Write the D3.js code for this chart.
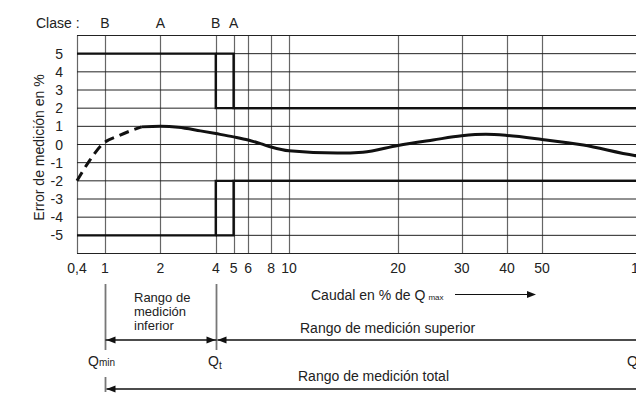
<!DOCTYPE html>
<html>
<head>
<meta charset="utf-8">
<script src="https://cdn.jsdelivr.net/npm/d3@7"></script>
<style>
  body { margin: 0; background: #fff; }
  svg { display: block; font-family: "Liberation Sans", Arial, sans-serif; }
  text { fill: #222; font-size: 14px; }
</style>
</head>
<body>
<div id="chart"></div>
<script>

/////////////////////
// Data
/////////////////////

var xTicks = [0.4, 1, 2, 4, 5, 6, 8, 10, 20, 30, 40, 50, 100];
var xTickLabels = ["0,4", "1", "2", "4", "5", "6", "8", "10", "20", "30", "40", "50", "100"];
var yTicks = [-5, -4, -3, -2, -1, 0, 1, 2, 3, 4, 5];
var yGrid = [-6, -5, -4, -3, -2, -1, 0, 1, 2, 3, 4, 5, 6];

var claseX = [1, 2, 4, 5];
var claseLabels = ["B", "A", "B", "A"];

// error limits (class B switches at 4, class A at 5)
var limitUpperB = [[0.4, 5], [4, 5], [4, 2], [100, 2]];
var limitUpperA = [[4, 5], [5, 5], [5, 2], [100, 2]];
var limitLowerB = [[0.4, -5], [4, -5], [4, -2], [100, -2]];
var limitLowerA = [[4, -5], [5, -5], [5, -2], [100, -2]];

// error curve of the meter
var curveDashed = [[0.4, -2], [0.6, -0.9], [0.9, -0.02], [1.2, 0.5], [1.58, 0.97]];
var curveSolid = [[1.58, 0.97], [2, 1.0], [2.5, 0.95], [3.3, 0.75], [4, 0.6], [5, 0.42],
                  [6, 0.25], [7, 0.05], [8, -0.14], [10, -0.35], [13.6, -0.47], [16, -0.42],
                  [20, -0.05], [25, 0.25], [30, 0.48], [35, 0.56], [40, 0.5], [50, 0.28],
                  [65, -0.03], [90, -0.6], [100, -0.72]];

var qMin = 1, qT = 4;

/////////////////////
// Scales
/////////////////////

var width = 636, height = 394;

// piecewise log scale: each band of the axis has its own decade length
var x = d3.scaleLog()
    .domain([0.4, 1, 10, 100])
    .range([77, 105, 289, 651]);

var y = d3.scaleLinear()
    .domain([-6, 6])
    .range([253.5, 35.5]);

var svg = d3.select("#chart").append("svg")
    .attr("width", width)
    .attr("height", height);

/////////////////////
// Grid
/////////////////////

svg.append("g").selectAll("line")
    .data(xTicks)
  .enter().append("line")
    .attr("x1", function(d) { return Math.round(x(d)) + 0.5; })
    .attr("x2", function(d) { return Math.round(x(d)) + 0.5; })
    .attr("y1", y(6))
    .attr("y2", y(-6))
    .style("stroke", "#666")
    .style("stroke-width", 1.2);

svg.append("g").selectAll("line")
    .data(yGrid)
  .enter().append("line")
    .attr("x1", x(0.4))
    .attr("x2", width)
    .attr("y1", function(d) { return y(d); })
    .attr("y2", function(d) { return y(d); })
    .style("stroke", "#222")
    .style("stroke-width", 1);

/////////////////////
// Axis labels
/////////////////////

svg.append("g").selectAll("text")
    .data(xTicks)
  .enter().append("text")
    // last label sits half outside the picture, as in the print
    .attr("x", function(d) { return d === 100 ? x(d) - 20 : x(d); })
    .attr("y", 273)
    .attr("text-anchor", function(d) { return d === 100 ? "start" : "middle"; })
    .text(function(d, i) { return xTickLabels[i]; });

svg.append("g").selectAll("text")
    .data(yTicks)
  .enter().append("text")
    .attr("x", 63)
    .attr("y", function(d) { return y(d) + 5; })
    .attr("text-anchor", "end")
    .text(function(d) { return d; });

svg.append("text")
    .attr("transform", "translate(44," + (y(0) + 3) + ") rotate(-90)")
    .attr("text-anchor", "middle")
    .text("Error de medición en %");

svg.append("text")
    .attr("x", 36)
    .attr("y", 28)
    .text("Clase :");

svg.append("g").selectAll("text")
    .data(claseX)
  .enter().append("text")
    .attr("x", function(d) { return x(d); })
    .attr("y", 28)
    .attr("text-anchor", "middle")
    .text(function(d, i) { return claseLabels[i]; });

/////////////////////
// Limits and curve
/////////////////////

var line = d3.line()
    .x(function(d) { return x(d[0]); })
    .y(function(d) { return y(d[1]); });

[limitUpperB, limitUpperA, limitLowerB, limitLowerA].forEach(function(l) {
    svg.append("path")
        .attr("d", line(l))
        .style("fill", "none")
        .style("stroke", "#111")
        .style("stroke-width", 2.4);
});

var smooth = d3.line()
    .x(function(d) { return x(d[0]); })
    .y(function(d) { return y(d[1]); })
    .curve(d3.curveMonotoneX);

svg.append("path")
    .attr("d", smooth(curveDashed))
    .style("fill", "none")
    .style("stroke", "#111")
    .style("stroke-width", 3)
    .style("stroke-dasharray", "10,6");

svg.append("path")
    .attr("d", smooth(curveSolid))
    .style("fill", "none")
    .style("stroke", "#111")
    .style("stroke-width", 3);

/////////////////////
// Range annotations
/////////////////////

function arrowHead(px, py, dir) {
    // dir = 1 points right, -1 points left
    svg.append("path")
        .attr("d", "M" + px + "," + py + "L" + (px - dir * 9) + "," + (py - 3.5) +
                   "L" + (px - dir * 9) + "," + (py + 3.5) + "Z")
        .style("fill", "#111");
}

function hLine(x1, x2, py, w) {
    svg.append("line")
        .attr("x1", x1).attr("x2", x2)
        .attr("y1", py).attr("y2", py)
        .style("stroke", "#111")
        .style("stroke-width", w || 1.2);
}

function vLine(px, y1, y2) {
    svg.append("line")
        .attr("x1", px).attr("x2", px)
        .attr("y1", y1).attr("y2", y2)
        .style("stroke", "#777")
        .style("stroke-width", 1.8);
}

var xMin = Math.round(x(qMin)) + 0.5, xT = Math.round(x(qT)) + 0.5;

vLine(xMin, 284, 350);
vLine(xMin, 377, 392);
vLine(xT, 284, 350);

// caudal label with arrow
var caudal = svg.append("text")
    .attr("x", 311)
    .attr("y", 300);
caudal.append("tspan").text("Caudal en % de Q");
caudal.append("tspan").attr("dx", 3).style("font-size", "8px").text("max");
hLine(455, 533, 294.5, 1.2);
arrowHead(536, 294.5, 1);

// lower range
hLine(xMin, xT, 340, 1.3);
arrowHead(xMin + 1, 340, -1);
arrowHead(xT - 1, 340, 1);

["Rango de", "medición", "inferior"].forEach(function(s, i) {
    svg.append("text")
        .attr("x", 134)
        .attr("y", 302 + i * 14)
        .style("font-size", "13px")
        .text(s);
});

// upper range
hLine(xT + 1, width, 340, 1.3);
arrowHead(xT + 1, 340, -1);
svg.append("text")
    .attr("x", 300)
    .attr("y", 333)
    .text("Rango de medición superior");

// total range
hLine(xMin + 1, width, 389, 1.3);
arrowHead(xMin + 1, 389, -1);
svg.append("text")
    .attr("x", 298)
    .attr("y", 381)
    .text("Rango de medición total");

// flow markers
var qm = svg.append("text").attr("x", 88).attr("y", 366);
qm.append("tspan").text("Q");
qm.append("tspan").style("font-size", "10px").text("min");

var qt = svg.append("text").attr("x", 208).attr("y", 366);
qt.append("tspan").text("Q");
qt.append("tspan").attr("dy", 3).style("font-size", "10px").text("t");

svg.append("text")
    .attr("x", 627)
    .attr("y", 366)
    .text("Q");

</script>
</body>
</html>
